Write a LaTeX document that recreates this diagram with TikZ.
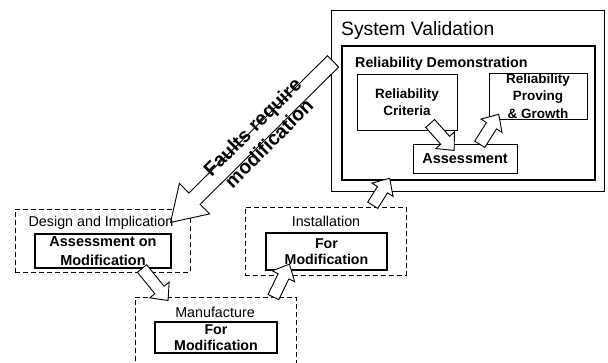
\documentclass[tikz,border=0pt]{standalone}
\usepackage{fontspec}
\setmainfont{Liberation Sans}
\usetikzlibrary{shapes.arrows,calc}

\begin{document}
\begin{tikzpicture}[x=1pt, y=-1pt,
    frame/.style={draw, line width=0.9pt, inner sep=0pt},
    stage/.style={draw, line width=0.9pt, dash pattern=on 5pt off 3pt, inner sep=0pt},
    heavy/.style={draw, line width=2.8pt, inner sep=0pt, align=center, font=\fontsize{14.2}{16}\selectfont\bfseries},
    plain/.style={draw, line width=0.9pt, inner sep=0pt, align=center, font=\fontsize{13.5}{17.5}\selectfont\bfseries},
    caption/.style={inner sep=0pt, anchor=base, font=\fontsize{14.3}{16}\selectfont},
    hollow/.style={single arrow, draw, fill=white, line width=0.9pt, inner xsep=0pt, single arrow head indent=0pt},
    smallarrow/.style={hollow, inner ysep=5.5pt, minimum width=24pt, single arrow head extend=6.5pt, single arrow tip angle=85},
    bigarrow/.style={hollow, inner ysep=7.5pt, minimum width=42pt, single arrow head extend=13.5pt, single arrow tip angle=65}]
    \useasboundingbox (0,0) rectangle (608,362);

    % System validation
    \node[frame, minimum width=273pt, minimum height=181pt] (sv) at (467.5,100.5) {};
    \node[heavy, minimum width=253pt, minimum height=134pt] (rd) at (468.5,113) {};
    \node[plain, minimum width=100pt, minimum height=56pt] (crit) at (407,102) {Reliability\\Criteria};
    \node[plain, minimum width=98pt, minimum height=46pt] (prov) at (538,96) {Reliability\\Proving\\\& Growth};
    \node[plain, font=\fontsize{14.5}{17.5}\selectfont\bfseries, minimum width=104pt, minimum height=29pt] (asm) at (465,158.5) {Assessment};

    % Modification stages
    \node[stage, minimum width=175pt, minimum height=63pt] (design) at (102.5,240.5) {};
    \node[heavy, font=\fontsize{14.5}{19}\selectfont\bfseries, minimum width=136pt, minimum height=34pt] (design-in) at (103,251) {Assessment on\\Modification};
    \node[stage, minimum width=161pt, minimum height=68pt] (inst) at (325.5,241) {};
    \node[heavy, minimum width=121pt, minimum height=37pt] (inst-in) at (326.5,251.5) {For\\Modification};
    \node[stage, minimum width=161pt, minimum height=75pt] (manu) at (215.5,334.5) {};
    \node[heavy, minimum width=122pt, minimum height=31pt] (manu-in) at (216,337.5) {For\\Modification};

    % Arrow ends
    \coordinate (fa-a) at (337.5,57);
    \coordinate (fa-b) at (175,218);
    \coordinate (ca-a) at (428,121);
    \coordinate (ca-b) at (452,148);
    \coordinate (ap-a) at (478,147);
    \coordinate (ap-b) at (497,117);
    \coordinate (dm-a) at (140,266);
    \coordinate (dm-b) at (166,298);
    \coordinate (mi-a) at (272,300);
    \coordinate (mi-b) at (288,267);
    \coordinate (is-a) at (371,208);
    \coordinate (is-b) at (388,181);

    % Hollow arrows
    \path let \p1=($(fa-b)-(fa-a)$) in
        node[bigarrow, rotate={atan2(\y1,\x1)}, minimum height={veclen(\x1,\y1)}] (fault) at ($(fa-a)!0.5!(fa-b)$) {};
    \foreach \from/\to in {ca-a/ca-b, ap-a/ap-b, dm-a/dm-b, mi-a/mi-b, is-a/is-b}
        \path let \p1=($(\to)-(\from)$) in
            node[smallarrow, rotate={atan2(\y1,\x1)}, minimum height={veclen(\x1,\y1)}] at ($(\from)!0.5!(\to)$) {};

    % Titles
    \node[inner sep=0pt, anchor=base west, font=\fontsize{19.3}{21}\selectfont] (sv-title) at (341,35) {System Validation};
    \node[inner sep=0pt, anchor=base west, font=\fontsize{14.3}{16}\selectfont\bfseries] (rd-title) at (355,67) {Reliability Demonstration};
    \node[caption] (design-title) at (101,226) {Design and Implication};
    \node[caption] (inst-title) at (326,226) {Installation};
    \node[caption] (manu-title) at (215,317) {Manufacture};
    \node[rotate=45, align=center, inner sep=0pt, font=\fontsize{19.5}{23}\selectfont\bfseries] (fault-text) at (260.5,135) {Faults require\\modification};
\end{tikzpicture}
\end{document}
